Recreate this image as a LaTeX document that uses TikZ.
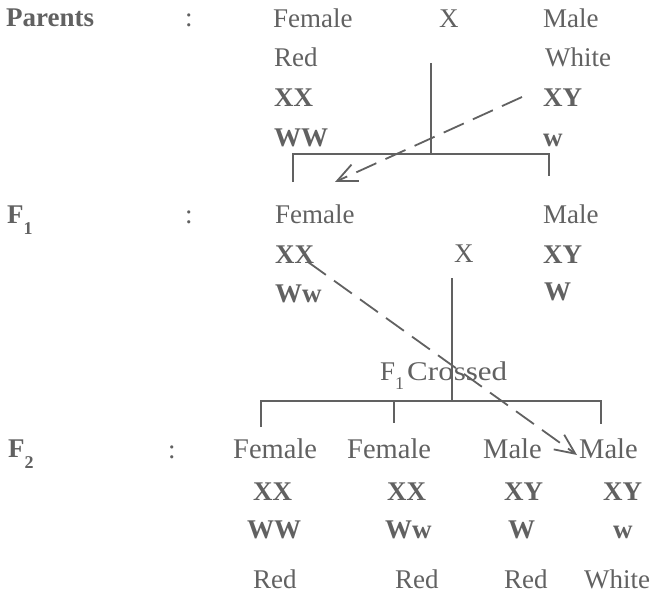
\documentclass[tikz,border=0pt]{standalone}
\usepackage{fontspec}
\setmainfont{Liberation Serif}
\usetikzlibrary{arrows.meta}
\definecolor{ink}{gray}{0.38}
\definecolor{linecol}{gray}{0.38}
\newcommand\lowsub[2]{\raisebox{#1}{\fontsize{18bp}{18bp}\selectfont #2}}
\begin{document}
\begin{tikzpicture}[x=1bp,y=-1bp,
  txt/.style={inner sep=0pt, anchor=base west, text=ink, font=\fontsize{27bp}{27bp}\selectfont},
  btxt/.style={txt, font=\fontsize{27bp}{27bp}\selectfont\bfseries},
  ltxt/.style={txt, font=\fontsize{28.5bp}{28.5bp}\selectfont},
  ln/.style={draw=linecol, line width=1.3bp},
  dsh/.style={draw=linecol, line width=1.8bp, dash pattern=on 22bp off 10bp,
    -{Straight Barb[length=20bp,width=18bp]}}]
\path[use as bounding box] (0,0) rectangle (656,594);

% Parents row
\node[btxt] (plab) at (6,27) {Parents};
\node[txt] (pcol) at (185,27) {:};
\node[txt] (pfem) at (273,28) {Female};
\node[txt] (px) at (439,28) {X};
\node[txt] (pmal) at (543,28) {Male};
\node[txt] (pred) at (274,67) {Red};
\node[txt] (pwhi) at (545,67) {White};
\node[btxt] (pxx) at (274,107) {XX};
\node[btxt] (pxy) at (543,107) {XY};
\node[btxt] (pww) at (274,147) {WW};
\node[btxt] (pw) at (543,147) {w};

% F1 row
\node[btxt] (f1lab) at (7,223) {F\lowsub{-11bp}{1}};
\node[txt] (f1col) at (185,223) {:};
\node[txt] (f1fem) at (275,223) {Female};
\node[txt] (f1mal) at (543,223) {Male};
\node[btxt] (f1xx) at (275,263) {XX};
\node[txt] (f1x) at (454,262) {X};
\node[btxt] (f1xy) at (543,263) {XY};
\node[btxt] (f1ww) at (275,302) {Ww};
\node[btxt] (f1w) at (544,300) {W};
\node[txt] (cross) at (380,380) {F\lowsub{-9bp}{1}\hspace{3bp}\scalebox{1.15}[1]{Crossed}};

% F2 row
\node[btxt] (f2lab) at (8,457) {F\lowsub{-11bp}{2}};
\node[txt] (f2col) at (168,458) {:};
\node[ltxt] (c1s) at (233,458) {Female};
\node[ltxt] (c2s) at (347,458) {Female};
\node[ltxt] (c3s) at (483,458) {Male};
\node[ltxt] (c4s) at (579,458) {Male};
\node[btxt] (c1g) at (253,500) {XX};
\node[btxt] (c2g) at (387,500) {XX};
\node[btxt] (c3g) at (504,500) {XY};
\node[btxt] (c4g) at (603,500) {XY};
\node[btxt] (c1a) at (247,538) {WW};
\node[btxt] (c2a) at (385,538) {Ww};
\node[btxt] (c3a) at (508,538) {W};
\node[btxt] (c4a) at (613,538) {w};
\node[txt] (c1c) at (253,588) {Red};
\node[txt] (c2c) at (395,588) {Red};
\node[txt] (c3c) at (504,588) {Red};
\node[txt] (c4c) at (584,588) {White};

% Parents cross lines
\coordinate (pv1) at (431,63);
\coordinate (pv2) at (431,154);
\coordinate (pbl) at (293,182);
\coordinate (pbl0) at (293,154);
\coordinate (pbr0) at (549,154);
\coordinate (pbr) at (549,176);
\draw[ln] (pv1) -- (pv2);
\draw[ln] (pbl) -- (pbl0) -- (pbr0) -- (pbr);
\coordinate (a1s) at (522,97);
\coordinate (a1e) at (335,182);
\draw[dsh] (a1s) -- (a1e);

% F1 cross lines
\coordinate (fv1) at (452,278);
\coordinate (fv2) at (452,401);
\coordinate (fbl) at (261,427);
\coordinate (fbl0) at (261,401);
\coordinate (fbr0) at (601,401);
\coordinate (fbr) at (601,424);
\coordinate (fm0) at (394,401);
\coordinate (fm) at (394,423);
\draw[ln] (fv1) -- (fv2);
\draw[ln] (fbl) -- (fbl0) -- (fbr0) -- (fbr);
\draw[ln] (fm0) -- (fm);
\coordinate (a2s) at (308,262);
\coordinate (a2e) at (577,455);
\draw[dsh] (a2s) -- (a2e);
\end{tikzpicture}
\end{document}
